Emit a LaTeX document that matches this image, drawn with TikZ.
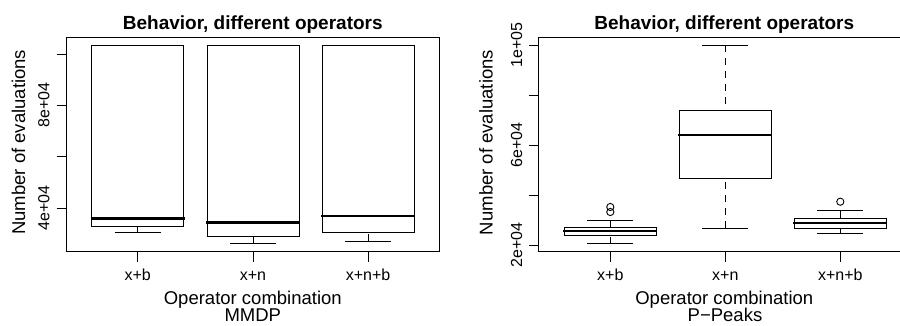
\documentclass[tikz,border=0pt]{standalone}
\usepackage{fontspec}
\setmainfont{Liberation Sans}
\newcommand\bxplot[5]{% #1 cx, #2 upper whisker y, #3 box top y, #4 median y, #5 box bottom y
  \draw[frame] (#1-46,#3) rectangle (#1+46,#5);
  \draw[med] (#1-47,#4) -- (#1+47,#4);
  \draw[whisk] (#1,#2) -- (#1,#3);
  \draw[frame] (#1-23,#2) -- (#1+23,#2);
}
\newcommand\bxlow[3]{% #1 cx, #2 box bottom y, #3 lower whisker y
  \draw[whisk] (#1,#3) -- (#1,#2);
  \draw[frame] (#1-23,#3) -- (#1+23,#3);
}
\begin{document}
\begin{tikzpicture}[x=1pt,y=-1pt,
  frame/.style={line width=0.9pt},
  med/.style={line width=2.6pt},
  whisk/.style={line width=0.9pt, dash pattern=on 7pt off 6pt},
  tickl/.style={font=\fontsize{16}{16}\selectfont, inner sep=0pt, anchor=base},
  lab/.style={font=\fontsize{18.5}{18.5}\selectfont, inner sep=0pt, anchor=base},
  sub/.style={lab, text depth=0pt},
  ttl/.style={font=\bfseries\fontsize{19}{19}\selectfont, inner sep=0pt, anchor=base},
  outl/.style={line width=0.9pt}]
\useasboundingbox (0,0) rectangle (900,326);
\begin{scope}
\clip (0,0) rectangle (900,326);
% ---------- left panel ----------
\draw[frame] (66.3,37.7) rectangle (439.3,251.7);
\foreach \yy in {54,105.3,156.7,208} \draw[frame] (56.7,\yy) -- (66.3,\yy);
\foreach \xx in {137.7,253,368} \draw[frame] (\xx,251.7) -- (\xx,261.7);
\node[tickl,rotate=90] (lt8) at (49.3,105.3) {8e+04};
\node[tickl,rotate=90] (lt4) at (49.3,208) {4e+04};
\node[tickl] (lxb) at (137.7,280) {x+b};
\node[tickl] (lxn) at (253,280) {x+n};
\node[tickl] (lxnb) at (368,280) {x+n+b};
\node[ttl] (ltitle) at (252.8,29.5) {Behavior, different operators};
\node[lab,rotate=90] (lylab) at (25,142.3) {Number of evaluations};
\node[lab] (lxlab) at (252.8,304) {Operator combination};
\node[sub] (lsub) at (252.8,321.6) {MMDP};
\bxplot{137.7}{45.3}{45.3}{218.7}{226.7}
\bxlow{137.7}{226.7}{232.3}
\bxplot{253}{45.3}{45.3}{222.7}{236}
\bxlow{253}{236}{243.7}
\bxplot{368}{45.3}{45.3}{216}{232}
\bxlow{368}{232}{241.3}
% ---------- right panel ----------
\draw[frame] (538.7,37.7) rectangle (912,251.7);
\foreach \yy in {45.3,95.7,145.3,195,245} \draw[frame] (529,\yy) -- (538.7,\yy);
\foreach \xx in {610.3,725.3,840.3} \draw[frame] (\xx,251.7) -- (\xx,261.7);
\node[tickl,rotate=90] (rt10) at (522,45.3) {1e+05};
\node[tickl,rotate=90] (rt6) at (522,145.3) {6e+04};
\node[tickl,rotate=90] (rt2) at (522,245) {2e+04};
\node[tickl] (rxb) at (610.3,280) {x+b};
\node[tickl] (rxn) at (725.3,280) {x+n};
\node[tickl] (rxnb) at (840.3,280) {x+n+b};
\node[ttl] (rtitle) at (724.3,29.5) {Behavior, different operators};
\node[lab,rotate=90] (rylab) at (492.7,142.5) {Number of evaluations};
\node[lab] (rxlab) at (724.3,304) {Operator combination};
\node[sub] (rsub) at (725,321.6) {P−Peaks};
\bxplot{610.3}{220}{227.7}{231}{235.3}
\bxlow{610.3}{235.3}{243.7}
\bxplot{725.3}{45.3}{110.7}{135}{178.3}
\bxlow{725.3}{178.3}{228}
\bxplot{840.3}{210.7}{218.3}{223}{228}
\bxlow{840.3}{228}{233.3}
\draw[outl] (610.3,207) circle (3.6);
\draw[outl] (610.3,212) circle (3.6);
\draw[outl] (840.3,201.7) circle (3.6);
\end{scope}
\end{tikzpicture}
\end{document}
